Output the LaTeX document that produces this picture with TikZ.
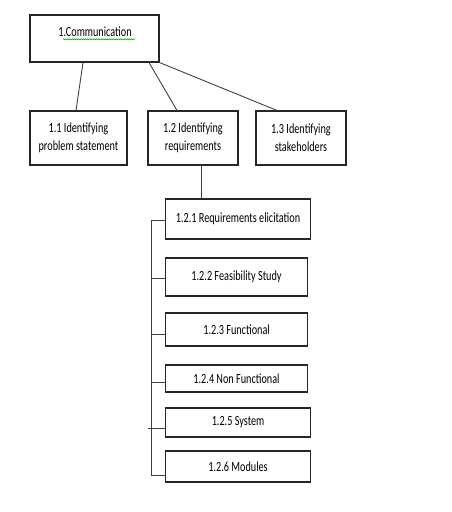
\documentclass[tikz,border=0pt]{standalone}
\usepackage{fontspec}
\setmainfont[FakeStretch=0.73]{Carlito}
\usetikzlibrary{decorations.pathmorphing}
\tikzset{
    box/.style={draw=black!85, line width=1.1pt, inner sep=0pt, align=center},
    link/.style={draw=black!75, line width=.9pt},
    every node/.style={font=\fontsize{14}{18}\selectfont}
}
\begin{document}
\begin{tikzpicture}[x=1pt, y=-1pt]
\useasboundingbox (0,0) rectangle (452,512);

\node[box, minimum width=129pt, minimum height=47pt] (comm) at (94.5,38.5) {};
\node (commtext) at (95,32) {1.Communication};
\draw[green!60!black, line width=.5pt, decorate, decoration={snake, amplitude=.6pt, segment length=2.2pt}]
    ([xshift=8pt, yshift=-2.5pt]commtext.base west) -- ([yshift=-2.5pt]commtext.base east);

\foreach \name/\x/\w/\txt in {ips/78.5/97/{1.1 Identifying\\problem statement},
    irq/193/90/{1.2 Identifying\\requirements},
    ish/301/90/{1.3 Identifying\\stakeholders}}
{
    \node[box, minimum width=\w pt, minimum height=54pt] (\name) at (\x,138) {\txt};
}

\draw[link] ([xshift=-11.5pt]comm.south) -- ([xshift=-2.5pt]ips.north);
\draw[link] ([xshift=54.5pt]comm.south) -- ([xshift=-16pt]irq.north);
\draw[link] (comm.south east) -- ([xshift=-24pt]ish.north);

\foreach \n/\y/\w/\h/\txt in {1/219/145/40/{1.2.1 Requirements elicitation},
    2/277/142/38/{1.2.2 Feasibility Study},
    3/329.5/142/33/{1.2.3 Functional},
    4/378.5/142/27/{1.2.4 Non Functional},
    5/422.5/145/29/{1.2.5 System},
    6/466.5/145/31/{1.2.6 Modules}}
{
    \node[box, anchor=west, minimum width=\w pt, minimum height=\h pt] (rq\n) at (165,\y) {\txt};
}

\draw[link] ([xshift=8pt]irq.south) -- ([xshift=8pt]irq.south |- rq1.north);

% spine
\coordinate (spinetop) at (151,220);
\coordinate (spinebot) at (151,475);
\draw[link] (spinetop) -- (spinebot);
\foreach \n/\dy/\ext in {1/1/0,2/1/0,3/5/0,4/3.5/0,5/5.5/3,6/8.5/0}
{
    \coordinate (br\n) at ([yshift=-\dy pt]rq\n.west);
    \draw[link] (br\n) -- ([xshift=-\ext pt]spinetop |- br\n);
}
\end{tikzpicture}
\end{document}
